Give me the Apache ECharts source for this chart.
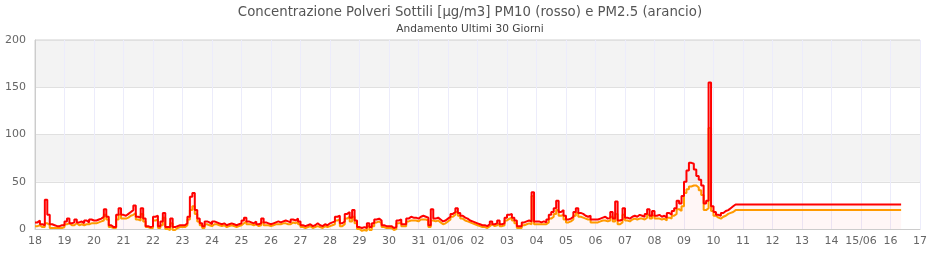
<!DOCTYPE html>
<html>
<head>
<meta charset="utf-8">
<script src="https://cdn.jsdelivr.net/npm/echarts@6/dist/echarts.min.js"></script>
<style>html,body{margin:0;padding:0;background:#fff}#c{width:940px;height:260px}</style>
</head>
<body>
<div id="c"></div>
<script>
// Two-hour samples starting 18 May 00:00 (12 per day)
const pm10 = [
  7, 9, 5, 4, 31, 15, 5, 4, 3, 3, 4, 4,          // 18
  8, 11, 6, 7, 10, 7, 8, 6, 9, 7, 10, 9,         // 19
  9, 10, 11, 13, 21, 13, 4, 2, 2, 15, 22, 15,    // 20
  14, 16, 18, 20, 25, 13, 12, 22, 11, 3, 2, 3,   // 21
  13, 14, 3, 8, 17, 2, 2, 11, 2, 3, 4, 4,        // 22
  4, 6, 13, 34, 38, 20, 11, 6, 3, 8, 7, 5,       // 23
  8, 7, 6, 5, 6, 4, 5, 6, 5, 4, 5, 6,            // 24
  9, 12, 8, 7, 6, 8, 5, 6, 11, 7, 6, 5,          // 25
  6, 7, 8, 7, 8, 9, 8, 7, 10, 9, 11, 8,          // 26
  4, 3, 4, 5, 3, 4, 6, 4, 3, 5, 4, 6,            // 27
  7, 8, 13, 14, 6, 8, 16, 18, 12, 20, 9, 2,      // 28
  1, 2, 1, 6, 2, 6, 10, 11, 9, 4, 3, 3,          // 29
  3, 1, 2, 9, 10, 5, 5, 11, 13, 12, 12, 11,      // 30
  13, 14, 13, 12, 4, 21, 11, 12, 10, 8, 9, 11,   // 31
  13, 16, 18, 22, 17, 14, 12, 11, 9, 8, 7, 6,    // 01/06
  5, 4, 4, 3, 5, 8, 5, 6, 9, 5, 6, 12,           // 02
  15, 16, 12, 9, 3, 3, 7, 8, 9, 8, 39, 8,        // 03
  8, 7, 8, 7, 10, 15, 18, 22, 30, 18, 20, 14,    // 04
  10, 11, 13, 18, 22, 17, 16, 14, 13, 14, 10, 10,// 05
  10, 11, 12, 13, 11, 12, 18, 11, 29, 9, 10, 22, // 06
  12, 11, 13, 14, 13, 15, 14, 13, 16, 21, 14, 19,// 07
  14, 15, 13, 14, 12, 17, 15, 19, 22, 30, 27, 35,// 08
  50, 62, 70, 69, 63, 56, 52, 46, 27, 30, 155, 24,// 09
  18, 15, 14, 17, 19, 20, 22, 24, 26             // 10
];
const pm25 = [
  3, 4, 2, 2, 6, 4, 1, 1, 1, 1, 1, 2,
  5, 6, 4, 4, 6, 4, 5, 4, 5, 5, 6, 6,
  6, 7, 8, 9, 15, 10, 2, 1, 1, 10, 15, 11,
  11, 12, 14, 15, 17, 10, 9, 16, 8, 2, 1, 1,
  9, 10, 1, 4, 12, 0, -1, 6, -1, 1, 2, 2,
  2, 4, 10, 20, 24, 16, 8, 4, 1, 5, 4, 3,
  5, 5, 4, 3, 4, 2, 3, 4, 3, 2, 3, 4,
  6, 8, 5, 5, 4, 5, 3, 4, 7, 4, 4, 3,
  4, 5, 5, 5, 6, 6, 5, 5, 7, 6, 8, 5,
  2, 1, 2, 3, 1, 2, 3, 2, 1, 3, 2, 3,
  4, 5, 9, 10, 3, 5, 11, 13, 8, 13, 6, 0,
  -2, -1, -2, 3, -1, 3, 7, 8, 6, 2, 1, 1,
  1, -1, 0, 6, 7, 3, 3, 8, 9, 9, 9, 8,
  10, 10, 10, 9, 2, 9, 8, 9, 7, 5, 6, 8,
  10, 13, 15, 18, 14, 11, 9, 8, 7, 6, 5, 4,
  3, 2, 2, 1, 3, 5, 3, 4, 6, 3, 4, 9,
  11, 12, 9, 6, 1, 1, 4, 5, 6, 5, 35, 5,
  5, 5, 5, 5, 7, 11, 13, 16, 20, 14, 15, 10,
  7, 8, 10, 14, 17, 13, 12, 11, 10, 10, 7, 7,
  7, 8, 9, 9, 8, 9, 13, 8, 16, 5, 7, 15,
  9, 8, 10, 11, 10, 11, 11, 10, 12, 15, 11, 14,
  11, 11, 10, 11, 9, 12, 11, 14, 16, 21, 19, 24,
  38, 42, 45, 46, 46, 44, 41, 36, 20, 22, 107, 19,
  14, 12, 11, 13, 14, 16, 17, 18, 20
];
// constant values held after last measurement, until this day offset
const pm10Hold = 26;
const pm25Hold = 20;
const holdUntilDay = 29.36;
const samplesPerDay = 12;
const xTickLabels = ['18','19','20','21','22','23','24','25','26','27','28','29','30','31',
  '01/06','02','03','04','05','06','07','08','09','10','11','12','13','14','15/06','16','17'];
const yTicks = [0, 50, 100, 150, 200];

function build(vals, hold) {
  const d = vals.map((v, i) => [i / samplesPerDay, v]);
  d.push([(vals.length) / samplesPerDay, hold]);
  d.push([holdUntilDay, hold]);
  return d;
}

const FONT = 'DejaVu Sans';
const chart = echarts.init(document.getElementById('c'));
chart.setOption({
  animation: false,
  backgroundColor: '#fff',
  textStyle: { fontFamily: FONT },
  title: {
    text: 'Concentrazione Polveri Sottili [µg/m3] PM10 (rosso) e PM2.5 (arancio)',
    subtext: 'Andamento Ultimi 30 Giorni',
    left: 'center', top: 1, itemGap: 5,
    textStyle: { fontFamily: FONT, fontSize: 13.3, fontWeight: 'normal', color: '#555' },
    subtextStyle: { fontFamily: FONT, fontSize: 10.6, color: '#444' }
  },
  grid: { left: 35, right: 20, top: 40, bottom: 31, show: true, borderColor: '#d0d0d0', borderWidth: 1, backgroundColor: 'transparent' },
  xAxis: {
    type: 'value', min: 0, max: xTickLabels.length - 1, interval: 1,
    axisLine: { show: true, lineStyle: { color: '#ccc' } },
    axisTick: { show: false },
    splitLine: { show: true, lineStyle: { color: '#ececfb', width: 1 } },
    axisLabel: { fontFamily: FONT, fontSize: 11, color: '#666', margin: 7,
      formatter: v => xTickLabels[Math.round(v)] || '' }
  },
  yAxis: {
    type: 'value', min: yTicks[0], max: yTicks[yTicks.length - 1], interval: 50,
    axisLine: { show: true, lineStyle: { color: '#ccc' } },
    axisTick: { show: false },
    splitLine: { show: true, lineStyle: { color: '#e0e0e0' } },
    splitArea: { show: true, areaStyle: { color: ['#ffffff', '#f3f3f3'] } },
    axisLabel: { fontFamily: FONT, fontSize: 11, color: '#666', margin: 9 }
  },
  series: [
    {
      name: 'PM2.5', type: 'line', data: build(pm25, pm25Hold), step: 'end',
      showSymbol: false, clip: false,
      lineStyle: { color: '#ffa000', width: 2 }, itemStyle: { color: '#ffa000' },
      z: 2
    },
    {
      name: 'PM10', type: 'line', data: build(pm10, pm10Hold), step: 'end',
      showSymbol: false, clip: false,
      lineStyle: { color: '#ff0000', width: 2 }, itemStyle: { color: '#ff0000' },
      areaStyle: { color: 'rgba(255,0,0,0.05)', origin: 'start' },
      z: 3
    }
  ]
});
</script>
</body>
</html>
